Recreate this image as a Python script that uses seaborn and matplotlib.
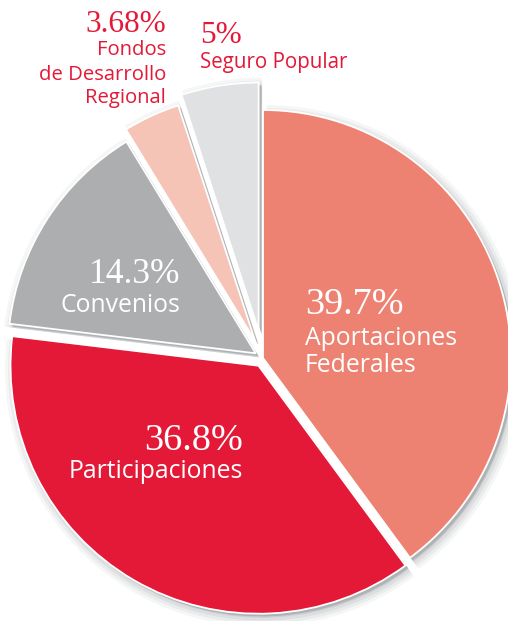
import matplotlib
matplotlib.use("Agg")
import matplotlib.pyplot as plt
import seaborn as sns

sns.set_theme(style="white")
plt.rcParams['font.family'] = ['Open Sans', 'DejaVu Sans']

# ---- data ----
categories = ["Aportaciones Federales", "Participaciones", "Convenios",
              "Fondos de Desarrollo Regional", "Seguro Popular"]
values = [39.7, 36.8, 14.3, 3.68, 5.0]
pct_labels = ["39.7%", "36.8%", "14.3%", "3.68%", "5%"]
name_labels = ["Aportaciones\nFederales", "Participaciones", "Convenios",
               "Fondos\nde Desarrollo\nRegional", "Seguro Popular"]

colors = sns.color_palette(["#EE8272", "#E31937", "#ADAEB0", "#F6C4B7", "#E0E1E3"])
explode = [0.0, 0.036, 0.035, 0.075, 0.112]

W, H = 508, 621
fig = plt.figure(figsize=(W / 100, H / 100), dpi=100)
ax = fig.add_axes([0, 0, 1, 1])

# soft shadow layers
for k, a in enumerate([0.08, 0.10, 0.14, 0.20]):
    ax.pie(values, explode=explode, startangle=90, counterclock=False,
           radius=1.0 + 0.012 * (3 - k), center=(0.014, -0.016),
           colors=["#8c9194"] * len(values),
           wedgeprops=dict(linewidth=0, alpha=a))
ax.pie(values, explode=explode, startangle=90, counterclock=False,
       radius=1.0, center=(0.011, -0.011), colors=["#aeb2b4"] * len(values),
       wedgeprops=dict(linewidth=0))
ax.pie(values, explode=explode, startangle=90, counterclock=False,
       radius=1.0, colors=colors,
       wedgeprops=dict(edgecolor="white", linewidth=1.3))

# map data coords: center at pixel (263, 358), 248 px per unit
cx, cy, s = 263, 358, 248
ax.set_xlim(-cx / s, (W - cx) / s)
ax.set_ylim(-(H - cy) / s, cy / s)
ax.set_aspect("equal")
ax.axis("off")

serif = ['Liberation Serif', 'DejaVu Serif']
red = "#E31937"

def px(x, y):
    return x / W, 1 - y / H

def put(x, y, txt, size, color, ha, fam=None):
    kw = dict(fontsize=size, color=color, ha=ha, va="baseline")
    if fam:
        kw["family"] = fam
    fig.text(*px(x, y), txt, **kw)

# inside labels (white)
put(305, 314, pct_labels[0], 27.5, "white", "left", serif)
put(305, 345, "Aportaciones", 17.8, "white", "left")
put(305, 372, "Federales", 17.8, "white", "left")

put(243, 450, pct_labels[1], 27.5, "white", "right", serif)
put(243, 478, name_labels[1], 17.8, "white", "right")

put(180, 283, pct_labels[2], 25.5, "white", "right", serif)
put(180, 312, name_labels[2], 17.8, "white", "right")

# outside labels (red)
put(166, 32, pct_labels[3], 22.5, red, "right", serif)
put(166, 55, "Fondos", 14.6, red, "right")
put(166, 80, "de Desarrollo", 14.6, red, "right")
put(166, 103, "Regional", 14.6, red, "right")

put(200, 43, pct_labels[4], 22.5, red, "left", serif)
put(200, 68, name_labels[4], 14.8, red, "left")

fig.savefig("out.png", dpi=100, facecolor="white")
